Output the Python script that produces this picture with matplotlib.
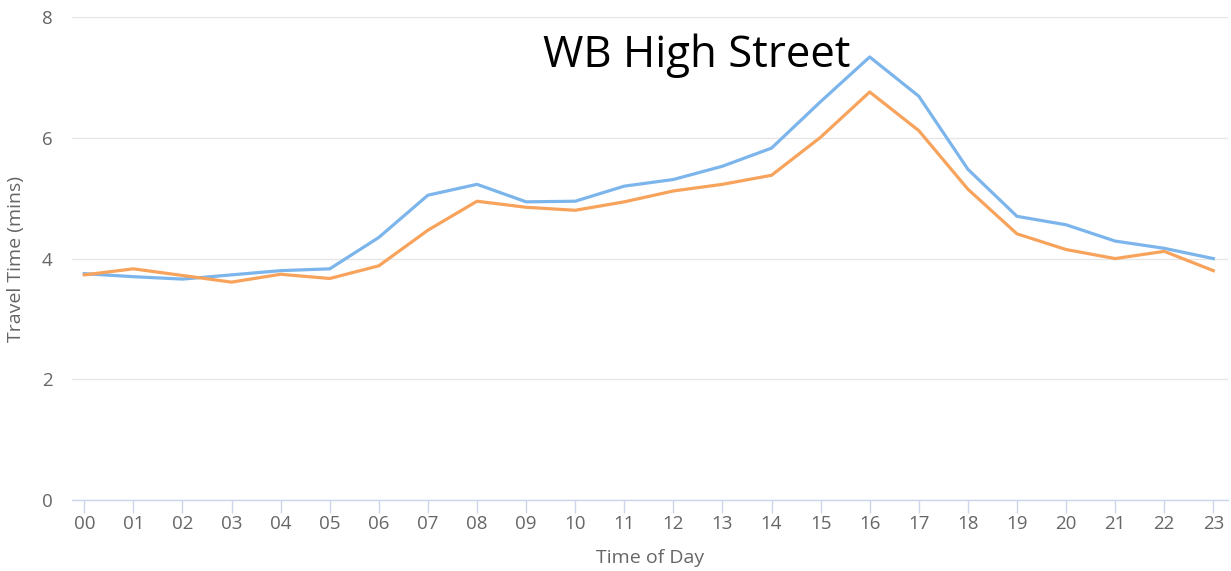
import matplotlib
matplotlib.use("Agg")
import matplotlib.pyplot as plt

hours = ["00", "01", "02", "03", "04", "05", "06", "07", "08", "09", "10", "11",
         "12", "13", "14", "15", "16", "17", "18", "19", "20", "21", "22", "23"]
series_blue = [3.75, 3.70, 3.66, 3.73, 3.80, 3.83, 4.35, 5.05, 5.23, 4.94, 4.95, 5.20,
               5.31, 5.53, 5.83, 6.60, 7.34, 6.69, 5.48, 4.70, 4.56, 4.29, 4.17, 4.00]
series_orange = [3.73, 3.83, 3.72, 3.61, 3.74, 3.67, 3.88, 4.47, 4.95, 4.85, 4.80, 4.94,
                 5.12, 5.23, 5.38, 6.01, 6.76, 6.12, 5.15, 4.41, 4.15, 4.00, 4.12, 3.80]
yticks = [0, 2, 4, 6, 8]
title = "WB High Street"

plt.rcParams['font.family'] = ['Open Sans', 'DejaVu Sans']

fig = plt.figure(figsize=(12.31, 5.71), dpi=100)
ax = fig.add_axes([0.0585, 0.1243, 0.9391, 0.8457])

x = list(range(len(hours)))
ax.plot(x, series_blue, color="#7cb5ec", lw=2.3, solid_joinstyle="round", zorder=3)
ax.plot(x, series_orange, color="#f7a35c", lw=2.3, solid_joinstyle="round", zorder=3)

ax.set_xlim(-0.25, 23.3)
ax.set_ylim(0, 8)
ax.set_yticks(yticks)
ax.set_xticks(x)
ax.set_xticklabels(hours)

for s in ["top", "right", "left"]:
    ax.spines[s].set_visible(False)
ax.spines["bottom"].set_color("#ccd6eb")
ax.spines["bottom"].set_linewidth(1)

ax.grid(axis="y", color="#e6e6e6", lw=1)
ax.set_axisbelow(True)

ax.tick_params(axis="x", colors="#ccd6eb", length=9, width=1, pad=2, labelcolor="#666666", labelsize=13.5)
ax.tick_params(axis="y", length=0, pad=14, labelcolor="#666666", labelsize=13.5)

ax.set_xlabel("Time of Day", color="#666666", fontsize=14, labelpad=11.5)
ax.set_ylabel("Travel Time (mins)", color="#666666", fontsize=14, labelpad=12)

ax.text(0.540, 0.8965, title, transform=ax.transAxes, ha="center", va="baseline",
        fontsize=31.5, color="black")

fig.savefig("out.png", dpi=100, facecolor="white")
